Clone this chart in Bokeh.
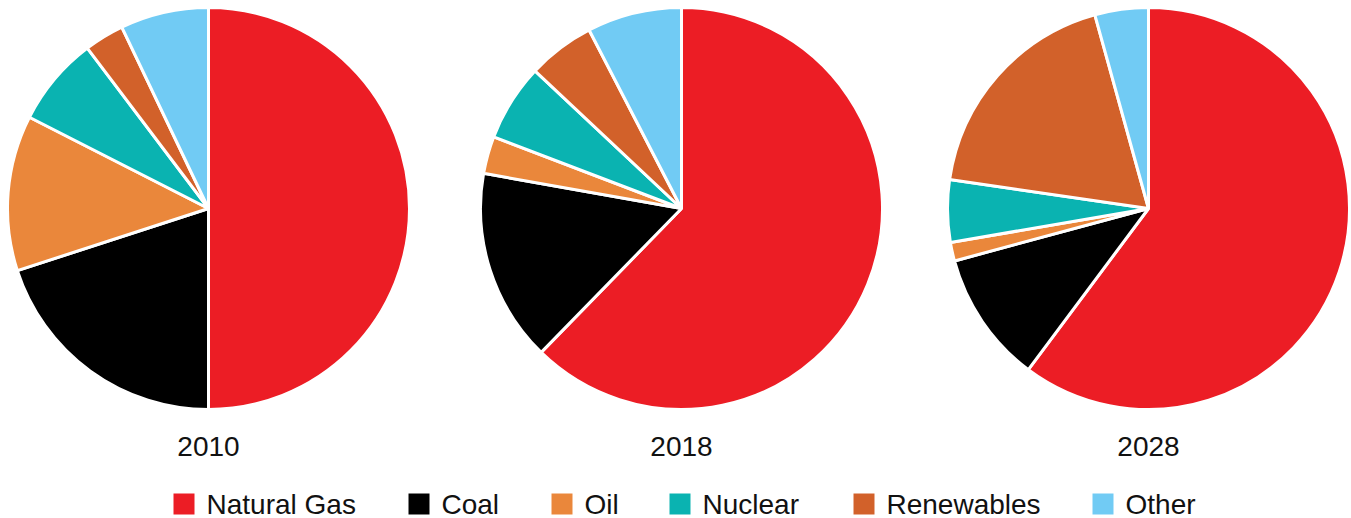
import numpy as np
from bokeh.plotting import figure
from bokeh.models import ColumnDataSource, Range1d
from bokeh.core.properties import value
from bokeh.embed import file_html
from bokeh.resources import INLINE

# ---- data ----
categories = ["Natural Gas", "Coal", "Oil", "Nuclear", "Renewables", "Other"]
colors = ["#EC1D25", "#000000", "#EA873B", "#0AB3B1", "#D2612A", "#71CBF4"]
years = ["2010", "2018", "2028"]
share_2010 = [50.0, 20.0, 12.5, 7.2, 3.2, 7.1]
share_2018 = [62.3, 15.5, 3.0, 6.2, 5.4, 7.6]
share_2028 = [60.2, 10.6, 1.5, 5.0, 18.4, 4.3]
shares = [share_2010, share_2018, share_2028]

# ---- layout (pixel-mapped coordinates) ----
W, H = 1351, 518
p = figure(width=W, height=H, output_backend="svg", toolbar_location=None,
           x_range=Range1d(0, W), y_range=Range1d(-H, 0),
           min_border=0, outline_line_color=None)
p.axis.visible = False
p.grid.visible = False
p.background_fill_color = "white"
p.border_fill_color = "white"

centers_x = [208, 681, 1148]
center_y = -208
radius = 201

for cx, vals, yr in zip(centers_x, shares, years):
    v = np.array(vals, dtype=float)
    frac = v / v.sum()
    cum = np.concatenate([[0.0], np.cumsum(frac)])
    theta0 = cum[:-1] * 2 * np.pi
    theta1 = cum[1:] * 2 * np.pi
    src = ColumnDataSource(dict(
        x=[cx] * len(v), y=[center_y] * len(v),
        start=np.pi / 2 - theta0, end=np.pi / 2 - theta1,
        color=colors, cat=categories))
    p.wedge(x="x", y="y", radius=radius, start_angle="start", end_angle="end",
            direction="clock", fill_color="color", line_color="white",
            line_width=3, source=src)
    p.text(x=[cx], y=[-445.5], text=[yr], text_font=value("Liberation Sans"),
           text_font_size="28px", text_align="center",
           text_baseline="middle", text_color="#111111")

# ---- legend ----
legend_sq_x = [173, 408, 551, 669, 853, 1092]
sq = 21
p.rect(x=[lx + sq / 2 for lx in legend_sq_x], y=[-503.5] * 6, width=sq,
       height=sq, fill_color=colors, line_color=None)
p.text(x=[lx + sq + 12 for lx in legend_sq_x], y=[-503.5] * 6, text=categories,
       text_font=value("Liberation Sans"), text_font_size="28px",
       text_align="left", text_baseline="middle", text_color="#111111")

open("out.html", "w").write(file_html(p, INLINE))
